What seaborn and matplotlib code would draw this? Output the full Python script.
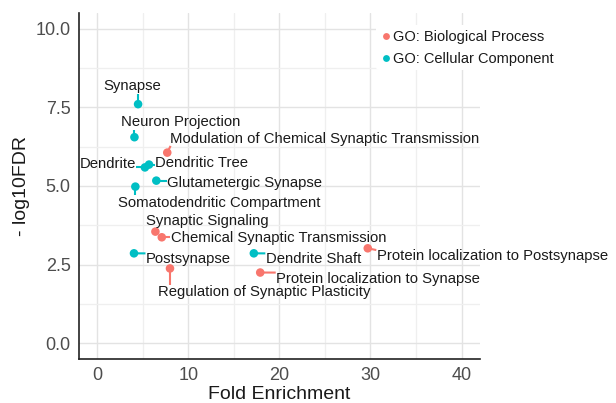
import matplotlib
matplotlib.use("Agg")
import matplotlib.pyplot as plt
from matplotlib.ticker import MultipleLocator
import seaborn as sns
import pandas as pd
import numpy as np

# GO enrichment terms
terms = [
    "Synapse", "Neuron Projection", "Modulation of Chemical Synaptic Transmission",
    "Dendrite", "Dendritic Tree", "Glutametergic Synapse",
    "Somatodendritic Compartment", "Synaptic Signaling", "Chemical Synaptic Transmission",
    "Postsynapse", "Dendrite Shaft", "Protein localization to Postsynapse",
    "Regulation of Synaptic Plasticity", "Protein localization to Synapse",
]
categories = [
    "GO: Cellular Component", "GO: Cellular Component", "GO: Biological Process",
    "GO: Cellular Component", "GO: Cellular Component", "GO: Cellular Component",
    "GO: Cellular Component", "GO: Biological Process", "GO: Biological Process",
    "GO: Cellular Component", "GO: Cellular Component", "GO: Biological Process",
    "GO: Biological Process", "GO: Biological Process",
]
fold_enrichment = [4.5, 4.1, 7.7, 5.25, 5.7, 6.5, 4.2, 6.4, 7.1, 4.05, 17.2, 29.7, 8.0, 17.9]
neg_log10_fdr = [7.6, 6.55, 6.06, 5.59, 5.68, 5.17, 4.98, 3.55, 3.37, 2.86, 2.86, 3.02, 2.38, 2.25]

hue_order = ["GO: Biological Process", "GO: Cellular Component"]
palette = {"GO: Biological Process": "#F8766D", "GO: Cellular Component": "#00BFC4"}

# label placement (pixel offsets from each point, alignment)
label_layout = [
    (-6, 18, "center"), (46, 15, "center"), (3, 14, "left"),
    (-9, 3, "right"), (6, 2, "left"), (11, -2, "left"),
    (84, -16, "center"), (52, 11, "center"), (9, -1, "left"),
    (12, -6, "left"), (12, -6, "left"), (9, -8, "left"),
    (94, -24, "center"), (16, -6, "left"),
]

df = pd.DataFrame({
    "term": terms,
    "category": categories,
    "fe": fold_enrichment,
    "fdr": neg_log10_fdr,
})

sns.set_theme(style="whitegrid")
plt.rcParams["font.family"] = ["Liberation Sans", "DejaVu Sans"]

fig = plt.figure(figsize=(6.16, 4.03), dpi=100)
ax = fig.add_axes([0.128, 0.109, 0.651, 0.859])

sns.scatterplot(data=df, x="fe", y="fdr", hue="category", hue_order=hue_order,
                palette=palette, s=38, linewidth=0, ax=ax, zorder=4)

ax.set_xlim(-2, 42)
ax.set_ylim(-0.5, 10.5)
ax.xaxis.set_major_locator(MultipleLocator(10))
ax.xaxis.set_minor_locator(MultipleLocator(5))
ax.yaxis.set_major_locator(MultipleLocator(2.5))
ax.yaxis.set_minor_locator(MultipleLocator(1.25))
ax.set_yticks(ax.get_yticks())
ax.set_yticklabels([f"{v:.1f}" for v in ax.get_yticks()])
ax.set_xlim(-2, 42)
ax.set_ylim(-0.5, 10.5)
ax.grid(which="major", color="#e3e3e3", lw=1.0)
ax.grid(which="minor", color="#efefef", lw=0.9)
ax.set_axisbelow(True)

# text labels next to each point
labels = []
for term, x, y, (dx, dy, ha) in zip(df["term"], df["fe"], df["fdr"], label_layout):
    t = ax.annotate(term, xy=(x, y), xytext=(dx, dy), textcoords="offset pixels",
                    ha=ha, va="center", fontsize=10.7, color="#1a1a1a", zorder=5)
    labels.append(t)

# connector segments from each point to the nearest edge of its label
fig.canvas.draw()
renderer = fig.canvas.get_renderer()
to_data = ax.transData.inverted()
for t, cat, x, y in zip(labels, df["category"], df["fe"], df["fdr"]):
    bb = t.get_window_extent(renderer).expanded(1.0, 0.85)
    px, py = ax.transData.transform((x, y))
    nx = np.clip(px, bb.x0 + 1, bb.x1 - 1)
    ny = np.clip(py, bb.y0, bb.y1)
    if np.hypot(nx - px, ny - py) < 3:
        continue
    # stop a little short of the label box
    vx, vy = nx - px, ny - py
    d = np.hypot(vx, vy)
    ex, ey = px + vx * (d - 1.5) / d, py + vy * (d - 1.5) / d
    (x0, y0), (x1, y1) = to_data.transform([(px, py), (ex, ey)])
    ax.plot([x0, x1], [y0, y1], color=palette[cat], lw=1.5,
            solid_capstyle="butt", zorder=3)

for side in ("top", "right"):
    ax.spines[side].set_visible(False)
for side in ("left", "bottom"):
    ax.spines[side].set_color("#222222")
    ax.spines[side].set_linewidth(1.2)

ax.tick_params(axis="both", which="both", length=0, labelsize=13,
               labelcolor="#4d4d4d", pad=6)
ax.set_xlabel("Fold Enrichment", fontsize=14, color="#1a1a1a", labelpad=1)
ax.set_ylabel("- log10FDR", fontsize=14, color="#1a1a1a", labelpad=4)

leg = ax.legend(loc="upper left", bbox_to_anchor=(0.598, 0.955),
                bbox_transform=fig.transFigure, frameon=True, fontsize=10.5,
                handletextpad=0.1, labelspacing=0.55, borderpad=0.3,
                handlelength=0.8, markerscale=0.8)
leg.get_frame().set_facecolor("white")
leg.get_frame().set_edgecolor("none")
leg.get_frame().set_alpha(1)
leg.set_zorder(6)
for t in leg.get_texts():
    t.set_color("#1a1a1a")

fig.savefig("out.png", dpi=100)
